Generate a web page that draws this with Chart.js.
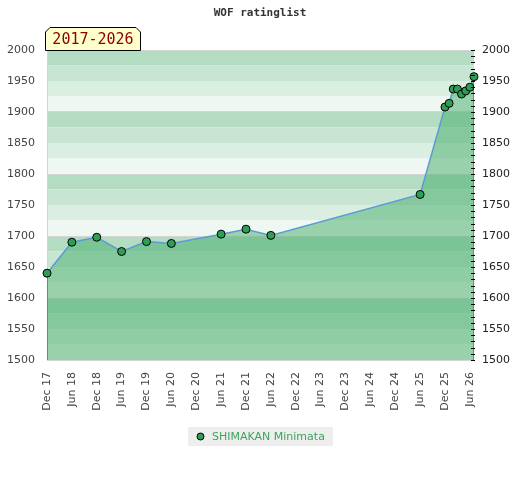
<!DOCTYPE html>
<html><head><meta charset="utf-8">
<script src="https://cdn.jsdelivr.net/npm/chart.js@4/dist/chart.umd.min.js"></script>
<style>html,body{margin:0;padding:0;background:#fff}canvas{display:block}</style>
</head><body>
<canvas id="c" width="520" height="480"></canvas>
<script>
const titleText = 'WOF ratinglist';
const periodText = '2017-2026';
const seriesName = 'SHIMAKAN Minimata';
// months after Dec 2017
const months = [0, 6, 12, 18, 24, 30, 42, 48, 54, 90, 96, 97, 98, 99, 100, 101, 102, 103];
const ratings = [1640, 1690, 1698, 1675, 1691, 1688, 1703, 1711, 1701, 1767, 1908, 1914, 1937, 1937, 1929, 1934, 1940, 1957];
const tickMonths = [0, 6, 12, 18, 24, 30, 36, 42, 48, 54, 60, 66, 72, 78, 84, 90, 96, 102];
const tickLabels = ['Dec 17','Jun 18','Dec 18','Jun 19','Dec 19','Jun 20','Dec 20','Jun 21','Dec 21','Jun 22','Dec 22','Jun 23','Dec 23','Jun 24','Dec 24','Jun 25','Dec 25','Jun 26'];
const yTicks = [1500, 1550, 1600, 1650, 1700, 1750, 1800, 1850, 1900, 1950, 2000];
const yMin = 1500, yMax = 2000, xMin = 0, xMax = 103;

const bandColors = ['#b3dcc3', '#c8e5d3', '#dbeee2', '#eef7f1'];
const pointColor = '#2f9e55';
const edgeColor = '#3c9a5c';

const decorPlugin = {
  id: 'decor',
  beforeDraw(chart) {
    const {ctx, chartArea: a, scales: {y}} = chart;
    ctx.save();
    for (let v = yMax; v > yMin; v -= 25) {
      const t = y.getPixelForValue(v), b = y.getPixelForValue(v - 25);
      ctx.fillStyle = bandColors[((yMax - v) / 25) % 4];
      ctx.fillRect(a.left, t, a.right - a.left, b - t);
    }
    ctx.restore();
  },
  beforeDatasetsDraw(chart) {
    const {ctx, chartArea: a, scales: {x, y}} = chart;
    ctx.save();
    ctx.strokeStyle = edgeColor;
    ctx.lineWidth = 1;
    const fx = Math.round(x.getPixelForValue(months[0])) + 0.5;
    const fy = y.getPixelForValue(ratings[0]);
    ctx.beginPath(); ctx.moveTo(fx, a.bottom); ctx.lineTo(fx, fy); ctx.stroke();
    const n = months.length - 1;
    const lx = Math.round(x.getPixelForValue(months[n])) - 0.5;
    const ly = y.getPixelForValue(ratings[n]);
    ctx.beginPath(); ctx.moveTo(lx, a.bottom); ctx.lineTo(lx, ly); ctx.stroke();
    ctx.restore();
  },
  afterDraw(chart) {
    const {ctx, chartArea: a, scales: {y}} = chart;
    ctx.save();
    // minor ticks on right axis
    ctx.strokeStyle = '#000';
    ctx.lineWidth = 1;
    for (let v = yMin; v <= yMax; v += 10) {
      const p = Math.round(y.getPixelForValue(v)) + 0.5;
      ctx.beginPath(); ctx.moveTo(a.right - 3, p); ctx.lineTo(a.right + 1, p); ctx.stroke();
    }
    // title
    ctx.fillStyle = '#333';
    ctx.font = 'bold 11px "DejaVu Sans Mono"';
    ctx.textAlign = 'center';
    ctx.textBaseline = 'middle';
    ctx.fillText(titleText, 260, 13);
    // period badge
    ctx.beginPath();
    ctx.moveTo(45.5, 50.5); ctx.lineTo(45.5, 32); ctx.lineTo(50, 27.5);
    ctx.lineTo(136, 27.5); ctx.lineTo(140.5, 32); ctx.lineTo(140.5, 50.5);
    ctx.closePath();
    ctx.fillStyle = '#ffffcc'; ctx.fill();
    ctx.strokeStyle = '#000'; ctx.stroke();
    ctx.fillStyle = '#8b0000';
    ctx.font = '15px "DejaVu Sans Mono"';
    ctx.fillText(periodText, 93, 40);
    // legend
    ctx.fillStyle = '#eeeeee';
    ctx.fillRect(188, 427, 145, 19);
    ctx.beginPath(); ctx.arc(200.5, 436.5, 3.5, 0, Math.PI * 2);
    ctx.fillStyle = pointColor; ctx.fill();
    ctx.strokeStyle = '#000'; ctx.stroke();
    ctx.fillStyle = '#3ba55c';
    ctx.font = '11px "DejaVu Sans"';
    ctx.textAlign = 'left';
    ctx.fillText(seriesName, 212, 437);
    ctx.restore();
  }
};

new Chart(document.getElementById('c'), {
  type: 'line',
  data: {
    datasets: [{
      label: seriesName,
      data: months.map((m, i) => ({x: m, y: ratings[i]})),
      borderColor: '#5b9bd5',
      borderWidth: 1.5,
      backgroundColor: 'rgba(67,172,103,0.5)',
      fill: 'start',
      tension: 0,
      clip: false,
      pointRadius: 4,
      pointHoverRadius: 4,
      pointBackgroundColor: pointColor,
      pointBorderColor: '#000',
      pointBorderWidth: 1
    }]
  },
  options: {
    responsive: false,
    animation: false,
    devicePixelRatio: 1,
    layout: {padding: {top: 50, left: 0, right: 0, bottom: 0}},
    plugins: {legend: {display: false}, title: {display: false}, tooltip: {enabled: false}},
    scales: {
      x: {
        type: 'linear', min: xMin, max: xMax,
        afterBuildTicks: s => { s.ticks = tickMonths.map(v => ({value: v})); },
        afterFit: s => { s.height = 120; },
        grid: {display: false, drawTicks: false},
        border: {display: false},
        ticks: {
          autoSkip: false, maxRotation: 90, minRotation: 90, padding: 12,
          color: '#444', font: {family: 'DejaVu Sans', size: 11},
          callback: v => tickLabels[tickMonths.indexOf(v)]
        }
      },
      y: {
        position: 'left', min: yMin, max: yMax,
        afterBuildTicks: s => { s.ticks = yTicks.map(v => ({value: v})); },
        afterFit: s => { s.width = 47; },
        grid: {
          drawTicks: false,
          color: c => (c.tick && c.tick.value % 100 === 0) ? '#d4d4d4' : 'rgba(0,0,0,0)',
          lineWidth: 1
        },
        border: {display: true, color: '#d4d4d4', width: 1},
        ticks: {padding: 12, color: '#444', font: {family: 'DejaVu Sans', size: 11}, callback: v => String(v)}
      },
      y2: {
        position: 'right', min: yMin, max: yMax,
        afterBuildTicks: s => { s.ticks = yTicks.map(v => ({value: v})); },
        afterFit: s => { s.width = 46; },
        grid: {display: false, drawTicks: false},
        border: {display: false},
        ticks: {padding: 8, color: '#222', font: {family: 'DejaVu Sans', size: 11}, callback: v => String(v)}
      }
    }
  },
  plugins: [decorPlugin]
});
</script>
</body></html>
